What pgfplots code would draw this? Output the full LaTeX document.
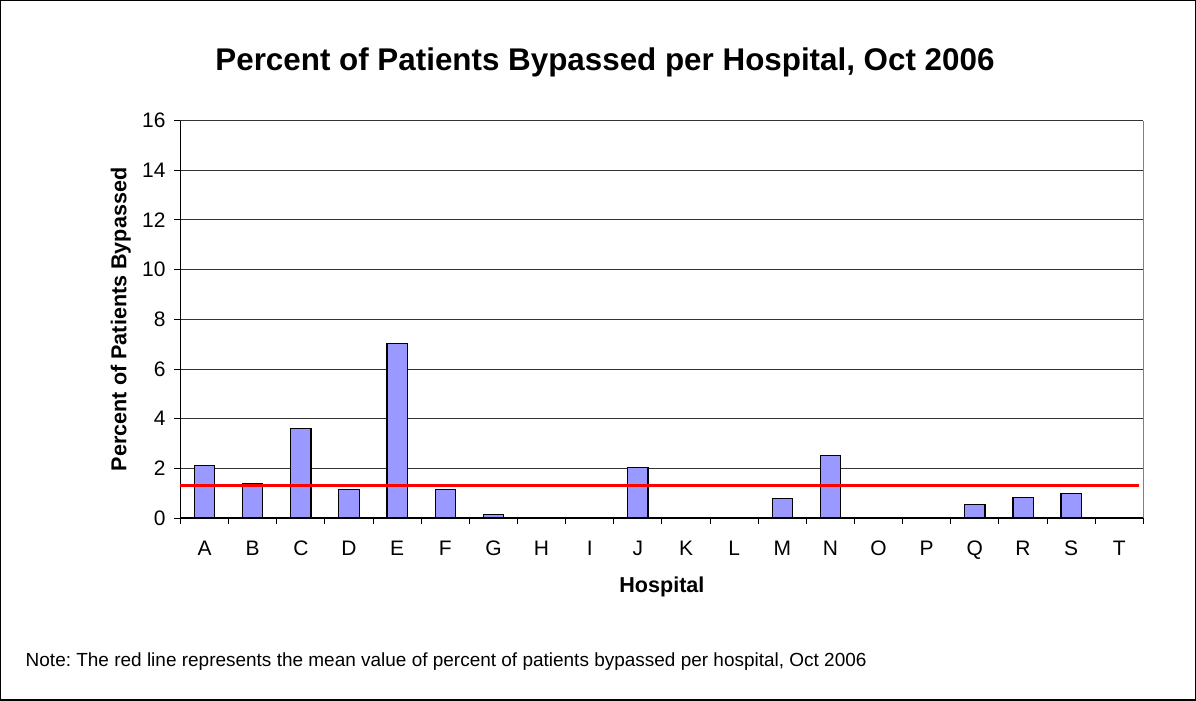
\documentclass[border=0pt]{standalone}
\usepackage{fontspec}
\setmainfont{Liberation Sans}
\usepackage{pgfplots}
\pgfplotsset{compat=1.18}

\definecolor{barblue}{HTML}{9999FF}

\begin{document}
\frenchspacing
\begin{tikzpicture}
    % outer chart frame
    \draw[line width=0.7pt] (0,0) rectangle (598pt,350pt);

    \node[font=\fontsize{15.7}{18}\selectfont\bfseries] at (302.5pt,319pt)
        {Percent of Patients Bypassed per Hospital, Oct 2006};

    \begin{axis}[
        at={(90pt,91pt)}, anchor=south west,
        width=482pt, height=199pt, scale only axis,
        xmin=-0.5, xmax=19.5,
        ymin=0, ymax=16,
        ytick={0,2,...,16},
        xtick={0,...,19},
        xticklabels={A,B,C,D,E,F,G,H,I,J,K,L,M,N,O,P,Q,R,S,T},
        minor xtick={-0.5,0.5,...,19.5},
        major x tick style={draw=none},
        minor tick length=3pt,
        major tick length=3pt,
        tick align=outside,
        xtick pos=bottom, ytick pos=left,
        axis x line*=bottom, axis y line*=left,
        axis line style={black, line width=0.6pt},
        tick style={black, line width=0.5pt},
        ymajorgrids=true,
        grid style={black!80, line width=0.5pt},
        /pgf/number format/assume math mode=true,
        ticklabel style={font=\fontsize{10.5}{12}\selectfont},
        xticklabel style={yshift=-5pt},
        yticklabel style={xshift=-1pt},
        xlabel={Hospital},
        ylabel={Percent of Patients Bypassed},
        label style={font=\fontsize{10.8}{12}\selectfont\bfseries},
        xlabel style={at={(axis description cs:0.5,-0.172)}, anchor=center},
        ylabel style={at={(axis description cs:-0.062,0.5)}, anchor=center},
        clip=false,
    ]
    \addplot[ybar, bar width=0.42, fill=barblue, draw=black, line width=0.6pt]
        coordinates {
        (0,2.11)(1,1.40)(2,3.61)(3,1.14)(4,7.03)(5,1.14)(6,0.13)
        (7,0)(8,0)(9,2.03)(10,0)(11,0)(12,0.78)(13,2.53)
        (14,0)(15,0)(16,0.54)(17,0.84)(18,0.98)(19,0)
        };
    % mean line
    \addplot[red, line width=1.35pt, sharp plot, no markers]
        coordinates {(-0.5,1.30)(19.4,1.30)};
    \draw[black!50, line width=0.6pt] (rel axis cs:1,0) -- (rel axis cs:1,1);
    \end{axis}

    \node[anchor=west, font=\fontsize{9.5}{11}\selectfont] at (9pt,19pt)
        {Note: The red line represents the mean value of percent of patients bypassed per hospital, Oct 2006};
\end{tikzpicture}
\end{document}
